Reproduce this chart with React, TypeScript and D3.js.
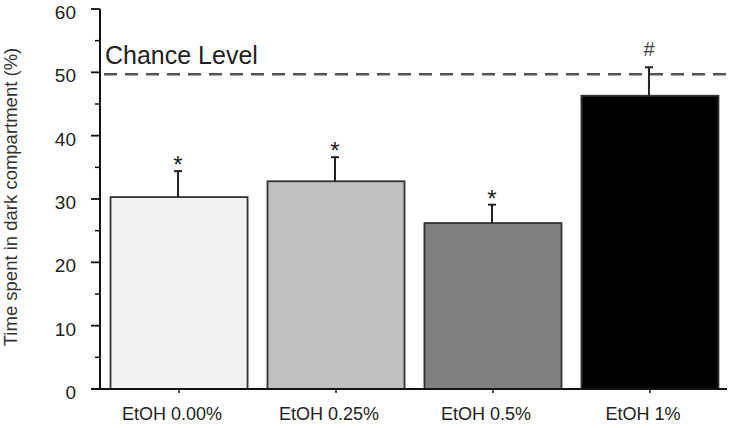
import React, { useEffect, useRef } from 'react';
import * as d3 from 'd3';

// values
const groups = ['EtOH 0.00%', 'EtOH 0.25%', 'EtOH 0.5%', 'EtOH 1%'];
const means = [30.3, 32.8, 26.2, 46.3];
const errors = [4.1, 3.8, 2.9, 4.5];
const marks = ['*', '*', '*', '#'];
const fills = ['#f2f2f2', '#c0c0c0', '#808080', '#000000'];
const yTicks = [0, 10, 20, 30, 40, 50, 60];
const minorTicks = [5, 15, 25, 35, 45, 55];
const chanceLevel = 49.7;

const W = 734;
const H = 428;
const FONT = 'Arial, "Liberation Sans", Helvetica, sans-serif';

const App = () => {
  const svgRef = useRef<SVGSVGElement | null>(null);

  useEffect(() => {
    if (!svgRef.current) return;
    const svg = d3.select(svgRef.current);
    svg.selectAll('*').remove();

    const x0 = 100;
    const yScale = d3.scaleLinear().domain([0, 60]).range([389, 9]);
    const xScale = d3.scaleBand<string>()
      .domain(groups)
      .range([x0, 729])
      .paddingInner(0.127)
      .paddingOuter(0.067);

    const g = svg.append('g');

    // dashed chance line
    g.append('line')
      .attr('x1', 104)
      .attr('x2', W)
      .attr('y1', yScale(chanceLevel))
      .attr('y2', yScale(chanceLevel))
      .attr('stroke', '#555')
      .attr('stroke-width', 2.5)
      .attr('stroke-dasharray', '13,8');

    g.append('text')
      .attr('x', 105)
      .attr('y', 64)
      .attr('font-family', FONT)
      .attr('font-size', 25)
      .attr('fill', '#222')
      .text('Chance Level');

    // bars
    groups.forEach((grp, i) => {
      const bx = xScale(grp) as number;
      const bw = xScale.bandwidth();
      const cx = bx + bw / 2 - 1;
      g.append('rect')
        .attr('x', bx)
        .attr('y', yScale(means[i]))
        .attr('width', bw)
        .attr('height', yScale(0) - yScale(means[i]))
        .attr('fill', fills[i])
        .attr('stroke', '#333')
        .attr('stroke-width', 1.8);

      const top = yScale(means[i] + errors[i]);
      g.append('line')
        .attr('x1', cx).attr('x2', cx)
        .attr('y1', yScale(means[i])).attr('y2', top)
        .attr('stroke', '#222').attr('stroke-width', 2);
      g.append('line')
        .attr('x1', cx - 4).attr('x2', cx + 4)
        .attr('y1', top).attr('y2', top)
        .attr('stroke', '#222').attr('stroke-width', 2);

      const isStar = marks[i] === '*';
      g.append('text')
        .attr('x', cx)
        .attr('y', isStar ? top + 2 : top - 11)
        .attr('text-anchor', 'middle')
        .attr('font-family', FONT)
        .attr('font-size', isStar ? 24 : 20)
        .attr('fill', isStar ? '#222' : '#444')
        .text(marks[i]);
    });

    // y axis
    g.append('line')
      .attr('x1', x0).attr('x2', x0)
      .attr('y1', yScale(60)).attr('y2', yScale(0))
      .attr('stroke', '#111').attr('stroke-width', 2);
    g.selectAll('.ytick')
      .data(yTicks)
      .enter()
      .append('line')
      .attr('x1', 91).attr('x2', x0)
      .attr('y1', d => yScale(d)).attr('y2', d => yScale(d))
      .attr('stroke', '#111').attr('stroke-width', 1.8);
    g.selectAll('.ymtick')
      .data(minorTicks)
      .enter()
      .append('line')
      .attr('x1', 95).attr('x2', x0)
      .attr('y1', d => yScale(d)).attr('y2', d => yScale(d))
      .attr('stroke', '#111').attr('stroke-width', 1.5);
    g.selectAll('.ylabel')
      .data(yTicks)
      .enter()
      .append('text')
      .attr('x', 76)
      .attr('y', d => yScale(d) + 10)
      .attr('text-anchor', 'end')
      .attr('font-family', FONT)
      .attr('font-size', 19)
      .attr('fill', '#222')
      .text(d => d);

    // x axis
    g.append('line')
      .attr('x1', 91).attr('x2', 727)
      .attr('y1', yScale(0)).attr('y2', yScale(0))
      .attr('stroke', '#111').attr('stroke-width', 2);
    groups.forEach(grp => {
      const cx = (xScale(grp) as number) + xScale.bandwidth() / 2;
      g.append('line')
        .attr('x1', cx).attr('x2', cx)
        .attr('y1', yScale(0)).attr('y2', yScale(0) + 4)
        .attr('stroke', '#111').attr('stroke-width', 1.5);
      g.append('text')
        .attr('x', cx - 7)
        .attr('y', 420)
        .attr('text-anchor', 'middle')
        .attr('font-family', FONT)
        .attr('font-size', 18)
        .attr('fill', '#222')
        .text(grp);
    });

    // y title
    g.append('text')
      .attr('transform', `translate(17, ${197}) rotate(-90)`)
      .attr('text-anchor', 'middle')
      .attr('font-family', FONT)
      .attr('font-size', 18.5)
      .attr('fill', '#333')
      .text('Time spent in dark compartment (%)');
  }, []);

  return (
    <svg
      ref={svgRef}
      width={W}
      height={H}
      style={{ position: 'fixed', left: 0, top: 0, background: '#fff' }}
    />
  );
};

export default App;
